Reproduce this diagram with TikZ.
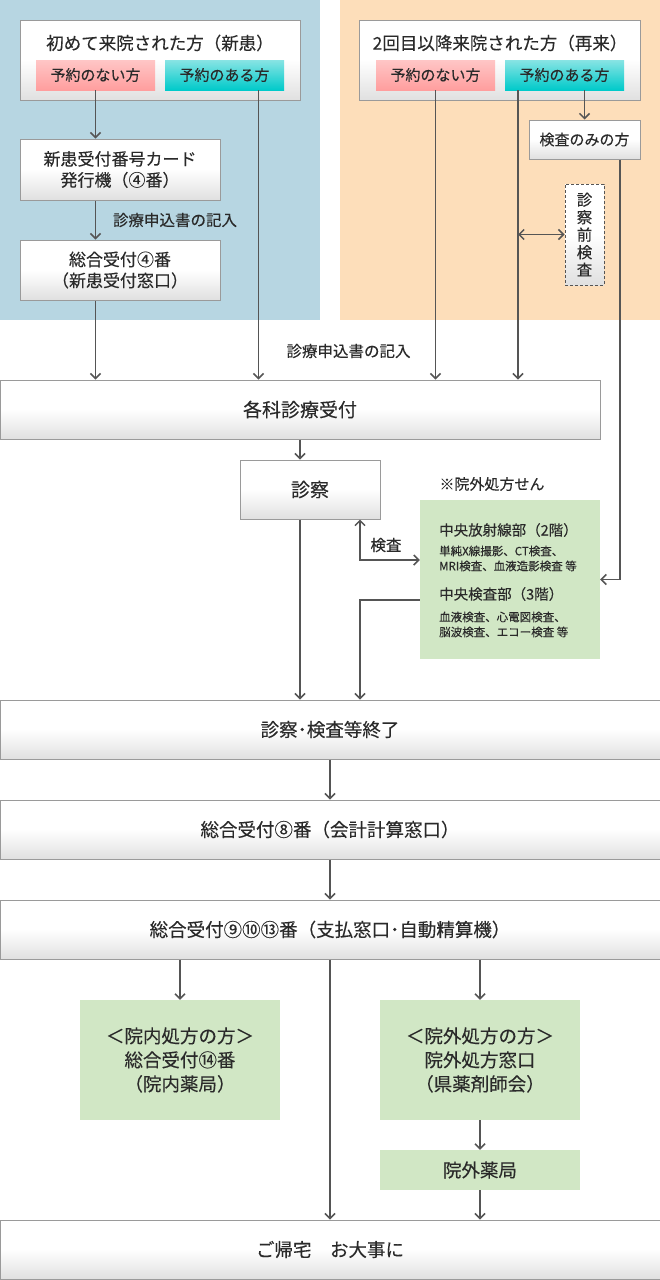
\documentclass[tikz,border=0pt]{standalone}
\usepackage{fontspec}
\setmainfont{Noto Sans CJK JP}[FakeBold=0.25]
\usetikzlibrary{positioning, calc, arrows.meta}
\definecolor{newbg}{HTML}{B7D6E2}
\definecolor{revbg}{HTML}{FDDEBA}
\definecolor{linegray}{HTML}{555555}
\definecolor{boxline}{HTML}{9A9A9A}
\definecolor{boxbottom}{HTML}{E0E0E0}
\definecolor{txtgray}{HTML}{2A2A2A}
\definecolor{pinktop}{HTML}{FFC6C6}
\definecolor{pinkbot}{HTML}{FF9E9E}
\definecolor{cyantop}{HTML}{88E4E4}
\definecolor{cyanbot}{HTML}{00CACA}
\definecolor{examgreen}{HTML}{D1E7C5}
\newcommand{\fsz}[2]{\fontsize{#1}{#2}\selectfont}

\begin{document}
\begin{tikzpicture}[x=1pt, y=-1pt,
  wbox/.style={draw=boxline, line width=1pt, top color=white, bottom color=boxbottom,
    middle color=white, text=txtgray, align=center, inner sep=0pt},
  gbox/.style={fill=examgreen, text=txtgray, align=center, inner sep=0pt},
  tag/.style={top color=#1top, bottom color=#1bot, text=txtgray, inner sep=0pt,
    minimum width=119pt, minimum height=30pt, font=\fsz{15}{17}},
  lbl/.style={text=txtgray, inner sep=0pt, font=\fsz{15.5}{18}},
  arr/.style={-{Straight Barb[length=5pt, width=10pt]}, line width=1.5pt, draw=linegray},
  dbl/.style={{Straight Barb[length=5pt, width=10pt]}-{Straight Barb[length=5pt, width=10pt]},
    line width=1.5pt, draw=linegray},
]
  \useasboundingbox (0,0) rectangle (660,1280);
  \fill[white] (0,0) rectangle (660,1280);
  \fill[newbg] (0,0) rectangle (320,320);
  \fill[revbg] (340,0) rectangle (660,320);

  % first visit
  \node[wbox, minimum width=280pt, minimum height=80pt] (newbox) at (160,60) {};
  \node[lbl, font=\fsz{17.5}{20}] (newtitle) at (160,43) {初めて来院された方（新患）};
  \node[tag=pink] (pink1) at (95.5,75) {予約のない方};
  \node[tag=cyan] (cyan1) at (224.5,75) {予約のある方};
  \node[wbox, minimum width=200pt, minimum height=61pt, font=\fsz{17}{21}] (card) at (120,169.5)
    {新患受付番号カード\\発行機（④番）};
  \node[wbox, minimum width=200pt, minimum height=60pt, font=\fsz{17}{21}] (newdesk) at (120,270)
    {総合受付④番\\（新患受付窓口）};
  \node[lbl] (form1) at (175,220) {診療申込書の記入};

  % return visit
  \node[wbox, minimum width=281pt, minimum height=80pt] (revbox) at (499.5,60) {};
  \node[lbl, font=\fsz{17.5}{20}] (revtitle) at (500,43) {2回目以降来院された方（再来）};
  \node[tag=pink] (pink2) at (435.5,75) {予約のない方};
  \node[tag=cyan] (cyan2) at (564.5,75) {予約のある方};
  \node[wbox, minimum width=111pt, minimum height=39pt, font=\fsz{15}{17}] (kensaonly) at (584.5,139.5)
    {検査のみの方};
  \node[wbox, draw=linegray, densely dashed, minimum width=39pt, minimum height=101pt,
    font=\fsz{15.5}{17.5}] (pre) at (584.5,234.5) {診\\察\\前\\検\\査};

  % reception and examination
  \node[wbox, minimum width=600pt, minimum height=59pt, font=\fsz{19}{22}] (reception) at (300,409.5)
    {各科診療受付};
  \node[lbl] (form2) at (348.5,351) {診療申込書の記入};
  \node[wbox, minimum width=140pt, minimum height=59pt, font=\fsz{19}{22}] (shinsatsu) at (310,489.5)
    {診察};
  \node[lbl, font=\fsz{15}{17}] (note) at (492,484) {※院外処方せん};
  \node[gbox, minimum width=180pt, minimum height=159pt] (exam) at (510,579.5) {};
  \node[lbl, font=\fsz{14.5}{17}, anchor=west] (rad) at (439,530) {中央放射線部（2階）};
  \node[lbl, font=\fsz{11.5}{15}, anchor=west, align=left] (radsub) at (439,558.5)
    {単純X線撮影、CT検査、\\MRI検査、血液造影検査 等};
  \node[lbl, font=\fsz{14.5}{17}, anchor=west] (lab) at (439,594) {中央検査部（3階）};
  \node[lbl, font=\fsz{11.5}{15}, anchor=west, align=left] (labsub) at (439,624.5)
    {血液検査、心電図検査、\\脳波検査、エコー検査 等};

  % after examination
  \node[wbox, minimum width=660pt, minimum height=59pt, font=\fsz{18.5}{22}] (finish) at (330,729.5)
    {診察･検査等終了};
  \node[wbox, minimum width=660pt, minimum height=59pt, font=\fsz{18.5}{22}] (account) at (330,829.5)
    {総合受付⑧番（会計計算窓口）};
  \node[wbox, minimum width=660pt, minimum height=59pt, font=\fsz{18.5}{22}] (payment) at (330,929.5)
    {総合受付⑨⑩⑬番（支払窓口･自動精算機）};
  \node[gbox, minimum width=200pt, minimum height=120pt, font=\fsz{18.5}{24}] (inhouse) at (180,1060)
    {＜院内処方の方＞\\総合受付⑭番\\（院内薬局）};
  \node[gbox, minimum width=200pt, minimum height=120pt, font=\fsz{18.5}{24}] (outside) at (480,1060)
    {＜院外処方の方＞\\院外処方窓口\\（県薬剤師会）};
  \node[gbox, minimum width=200pt, minimum height=40pt, font=\fsz{18.5}{22}] (pharmacy) at (480,1170)
    {院外薬局};
  \node[wbox, minimum width=660pt, minimum height=59pt, font=\fsz{18.5}{22}] (home) at (330,1249.5)
    {ご帰宅　お大事に};

  % connectors
  \draw[arr] (pink1.south) -- (pink1.south |- card.north);
  \draw[arr] (card.south -| pink1.south) -- (pink1.south |- newdesk.north);
  \draw[arr] (newdesk.south -| pink1.south) -- (pink1.south |- reception.north);
  \draw[arr] ([xshift=34pt]cyan1.south) -- ([xshift=34pt]cyan1.south |- reception.north);
  \draw[arr] (pink2.south) -- (pink2.south |- reception.north);
  \coordinate (c2line) at ([xshift=-46.5pt]cyan2.south);
  \draw[arr] (c2line) -- (c2line |- reception.north);
  \draw[arr] (cyan2.south -| kensaonly.north) -- (kensaonly.north);
  \draw[dbl] (pre.west -| c2line) -- (pre.west);
  \draw[arr] ([xshift=35.5pt]kensaonly.south) |- (exam.east);
  \draw[arr] (reception.south) -- (reception.south |- shinsatsu.north);
  \draw[arr] (shinsatsu.south -| reception.south) -- (reception.south |- finish.north);
  \coordinate (kpt) at (360,560);
  \draw[dbl] (kpt |- shinsatsu.south) -- (kpt) -- (kpt -| exam.west);
  \node[lbl] (kensalbl) at (386,545) {検査};
  \draw[arr] ([yshift=-20.5pt]exam.west) -| (kpt |- finish.north);
  \draw[arr] (finish.south) -- (account.north);
  \draw[arr] (account.south) -- (payment.north);
  \draw[arr] (payment.south -| inhouse.north) -- (inhouse.north);
  \draw[arr] (payment.south -| outside.north) -- (outside.north);
  \draw[arr] (payment.south) -- (home.north);
  \draw[arr] (outside.south) -- (pharmacy.north);
  \draw[arr] (pharmacy.south) -- (home.north -| pharmacy.south);
\end{tikzpicture}
\end{document}
